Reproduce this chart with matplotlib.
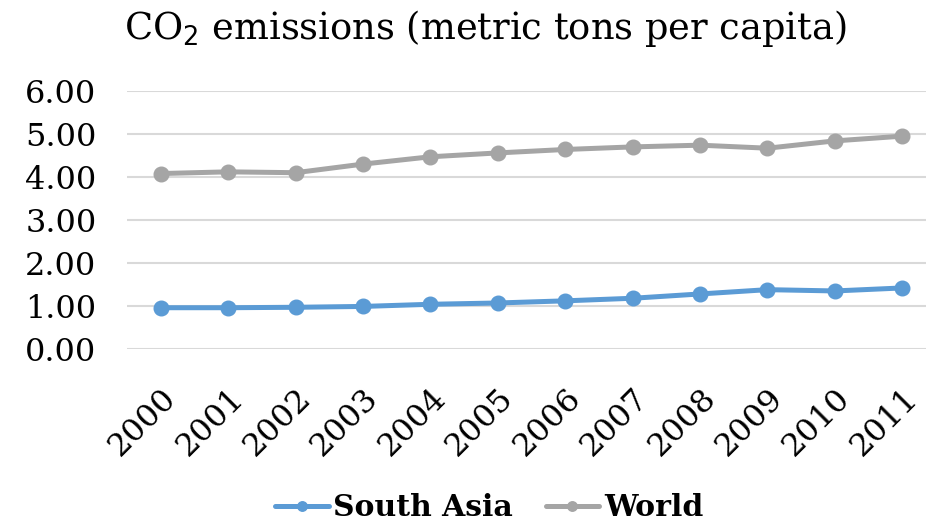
import matplotlib.pyplot as plt

years = ["2000", "2001", "2002", "2003", "2004", "2005",
         "2006", "2007", "2008", "2009", "2010", "2011"]
south_asia = [0.96, 0.96, 0.97, 0.99, 1.04, 1.07, 1.12, 1.18, 1.28, 1.38, 1.35, 1.42]
world = [4.08, 4.12, 4.10, 4.30, 4.47, 4.56, 4.64, 4.70, 4.74, 4.67, 4.84, 4.95]

plt.rcParams["font.family"] = ["DejaVu Serif"]

fig = plt.figure(figsize=(9.26, 5.26), dpi=100)
# plot area runs slightly past the right edge, like the original
ax = fig.add_axes([127 / 926, 1 - 349 / 526, 809 / 926, (349 - 91) / 526])

x = list(range(len(years)))
ax.plot(x, south_asia, color="#5B9BD5", lw=3.6, marker="o", ms=10.5,
        label="South Asia", solid_capstyle="round")
ax.plot(x, world, color="#A5A5A5", lw=3.6, marker="o", ms=10.5,
        label="World", solid_capstyle="round")

ax.set_ylim(0, 6)
ax.set_yticks([0, 1, 2, 3, 4, 5, 6])
ax.set_yticklabels([f"{v:.2f}" for v in range(7)])
ax.set_xlim(-0.5, len(years) - 0.5)
ax.set_xticks(x)
ax.set_xticklabels(years, rotation=45, ha="right", va="top", rotation_mode="anchor")
ax.tick_params(axis="both", length=0, labelsize=23)
ax.tick_params(axis="x", pad=24)
ax.tick_params(axis="y", pad=22)
ax.grid(axis="y", color="#D9D9D9", lw=1.5)
ax.set_axisbelow(True)
for s in ax.spines.values():
    s.set_visible(False)

fig.text(0.524, 0.945, r"CO$_2$ emissions (metric tons per capita)", ha="center",
         va="center", fontsize=26.5)

leg = ax.legend(loc="center", bbox_to_anchor=((489 - 127) / 809, -0.615),
                ncol=2, frameon=False,
                prop={"weight": "bold", "size": 21.5}, handlelength=1.8,
                handletextpad=0.15, columnspacing=1.1, borderaxespad=0,
                markerscale=0.65)

fig.savefig("out.png", dpi=100)
